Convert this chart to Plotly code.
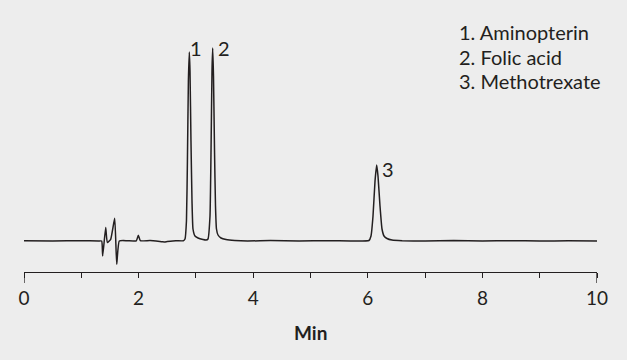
import plotly.graph_objects as go

# Retention time (min) and detector signal (arbitrary units)
time_min = [
    0.0, 0.5, 1.0, 1.3, 1.356, 1.373, 1.426, 1.454, 1.513, 1.583, 1.618, 1.663,
    1.8, 1.96, 1.995, 2.03, 2.2, 2.41, 2.45, 2.5, 2.65, 2.78,
    2.81, 2.835, 2.852, 2.869, 2.885, 2.897, 2.914, 2.932, 2.949, 2.984, 3.037, 3.124, 3.176,
    3.211, 3.246, 3.264, 3.281, 3.293, 3.307, 3.325, 3.342, 3.359, 3.386, 3.438, 3.525, 3.68, 3.9,
    4.3, 4.8, 5.3, 5.7, 6.02, 6.056, 6.091, 6.126, 6.155, 6.178, 6.213, 6.248, 6.283, 6.335, 6.422, 6.6,
    7.0, 7.5, 8.0, 8.5, 9.0, 9.5, 10.0,
]
signal = [
    0.3, 0.0, 0.3, 0.0, 0.0, -15.0, 13.4, -1.6, 1.7, 22.7, -23.3, 0.0,
    0.3, 0.2, 5.7, 0.3, 0.5, -0.8, -1.0, -0.6, 0.3, 0.2,
    2.0, 20.0, 80.0, 160.0, 189.0, 170.0, 100.0, 40.0, 12.0, 5.0, 3.0, 1.5, 1.0,
    2.0, 25.0, 90.0, 170.0, 193.0, 165.0, 90.0, 35.0, 12.0, 6.0, 3.0, 1.5, 0.5, 0.0,
    0.4, 0.0, 0.3, 0.0, 0.5, 5.0, 25.0, 60.0, 76.0, 65.0, 35.0, 12.0, 5.0, 2.5, 1.0, 0.3,
    0.0, 0.4, 0.0, 0.3, 0.0, 0.2, 0.0,
]

peak_labels = ["1", "2", "3"]
peak_label_time = [3.0, 3.49, 6.36]
peak_label_signal = [193.0, 193.0, 72.0]

legend_lines = ["1. Aminopterin", "2. Folic acid", "3. Methotrexate"]

tick_vals = [0, 1, 2, 3, 4, 5, 6, 7, 8, 9, 10]
tick_text = ["0", "", "2", "", "4", "", "6", "", "8", "", "10"]

BG = "#ededed"
INK = "#231f20"
FONT = "Lato"

H_PLOT = 252
TOP = 20
X0_PX, X1_PX = 24, 597

fig = go.Figure()
fig.add_trace(go.Scatter(
    x=time_min, y=signal, mode="lines",
    line=dict(color=INK, width=1.5, shape="spline", smoothing=0.4),
    hoverinfo="skip", showlegend=False,
))

for lbl, tx, sy in zip(peak_labels, peak_label_time, peak_label_signal):
    fig.add_annotation(x=tx, y=sy, xref="x", yref="y", text=lbl, showarrow=False,
                       font=dict(family=FONT, size=20, color=INK), xanchor="center", yanchor="middle")

legend_px = [(457, 32), (457, 56.5), (457, 81)]
for line, (px_x, px_y) in zip(legend_lines, legend_px):
    fig.add_annotation(x=(px_x - X0_PX) / (X1_PX - X0_PX), y=1 - (px_y - TOP) / H_PLOT,
                       xref="paper", yref="paper", text=line,
                       showarrow=False, xanchor="left", yanchor="middle",
                       font=dict(family=FONT, size=20, color=INK))

# longer end ticks at 0 and 10
for xv in [tick_vals[0], tick_vals[-1]]:
    fig.add_shape(type="line", xref="x", yref="paper", x0=xv, x1=xv, y0=0, y1=-11 / H_PLOT,
                  line=dict(color=INK, width=1.3))

fig.add_annotation(x=0.5, y=-(332 - 272) / H_PLOT, xref="paper", yref="paper", text="<b>Min</b>",
                   showarrow=False, xanchor="center", yanchor="middle",
                   font=dict(family=FONT, size=19, color=INK))

fig.update_layout(
    width=627, height=360,
    margin=dict(l=X0_PX, r=627 - X1_PX, t=TOP, b=360 - TOP - H_PLOT),
    paper_bgcolor=BG, plot_bgcolor=BG,
    xaxis=dict(range=[0, 10], tickvals=tick_vals, ticktext=tick_text, showline=True,
               linecolor=INK, linewidth=1.3, ticks="outside", ticklen=5, tickwidth=1.3,
               tickcolor=INK, showgrid=False, zeroline=False, ticklabelstandoff=4,
               tickfont=dict(family=FONT, size=19, color=INK)),
    yaxis=dict(range=[-31, 221], visible=False, showgrid=False, zeroline=False),
)

fig.write_html("out.html")
